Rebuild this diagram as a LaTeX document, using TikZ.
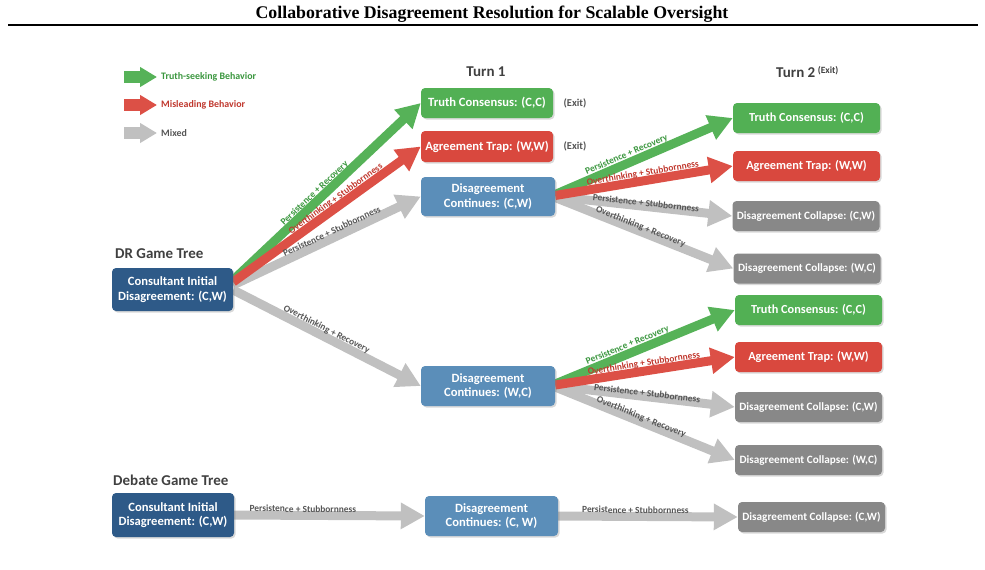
\documentclass[tikz,border=0pt]{standalone}
\usepackage{fontspec}
\setmainfont{Liberation Serif}
\newfontfamily\cf{Carlito}
\usetikzlibrary{arrows.meta,shadows,backgrounds}
\definecolor{ngreen}{RGB}{82,176,84}
\definecolor{nred}{RGB}{217,72,62}
\definecolor{nblue}{RGB}{91,142,185}
\definecolor{ndblue}{RGB}{46,90,136}
\definecolor{ngray}{RGB}{136,136,136}
\definecolor{agreen}{RGB}{86,178,88}
\definecolor{ared}{RGB}{220,80,70}
\definecolor{agray}{RGB}{192,192,192}
\definecolor{lgreen}{RGB}{58,150,62}
\definecolor{lred}{RGB}{192,56,46}
\definecolor{lgray}{RGB}{85,85,85}
\definecolor{hdr}{RGB}{64,64,64}
\tikzset{
  box/.style={rectangle, rounded corners=4pt, text=white, align=center, inner sep=1pt,
    font=\cf\bfseries\fontsize{12.6}{14.5}\selectfont,
    drop shadow={shadow xshift=1.5pt, shadow yshift=-1.5pt, opacity=0.3}},
  tbox/.style={box, font=\cf\bfseries\fontsize{12.3}{14}\selectfont, minimum width=147pt, minimum height=30pt},
  cbox/.style={tbox, font=\cf\bfseries\fontsize{11.2}{13}\selectfont},
  barrow/.style={line width=9pt, -{Triangle[width=25pt,length=24pt]}, draw=#1},
  lab/.style={sloped, font=\cf\bfseries\fontsize{9.4}{10}\selectfont, inner sep=1pt, above=2pt},
  hdrtext/.style={font=\cf\bfseries\fontsize{15}{17}\selectfont, text=hdr},
  exittext/.style={font=\cf\bfseries\fontsize{10.5}{12}\selectfont, text=lgray},
  legtext/.style={font=\cf\bfseries\fontsize{9.9}{11}\selectfont, anchor=west, inner sep=0pt}
}
\begin{document}
\begin{tikzpicture}[x=1pt,y=-1pt]
\useasboundingbox (0,0) rectangle (985,570);
% title
\node[font=\bfseries\fontsize{17.8}{20}\selectfont, inner sep=0pt] (title) at (492,14) {Collaborative Disagreement Resolution for Scalable Oversight};
\draw[line width=2pt] (8,25) -- (978,25);

% legend
\coordinate (g1) at (124,77); \coordinate (g2) at (157,77);
\coordinate (r1) at (124,105); \coordinate (r2) at (157,105);
\coordinate (m1) at (124,133); \coordinate (m2) at (157,133);
\draw[line width=12pt, -{Triangle[width=19pt,length=17pt]}, draw=agreen] (g1) -- (g2);
\draw[line width=12pt, -{Triangle[width=19pt,length=17pt]}, draw=ared] (r1) -- (r2);
\draw[line width=12pt, -{Triangle[width=19pt,length=17pt]}, draw=agray] (m1) -- (m2);
\node[legtext, text=lgreen] (lg) at (161,77) {Truth-seeking Behavior};
\node[legtext, text=lred] (lr) at (161,105) {Misleading Behavior};
\node[legtext, text=lgray] (lm) at (161,133) {Mixed};

% headers
\node[hdrtext] (turn1) at (486,72) {Turn 1};
\node[hdrtext, anchor=west, inner sep=0pt] (turn2) at (776,72) {Turn 2\,\raisebox{0.55ex}{\fontsize{9.5}{10}\selectfont(Exit)}};
\node[hdrtext, anchor=west, inner sep=0pt] (drhdr) at (115,254) {DR Game Tree};
\node[hdrtext, anchor=west, inner sep=0pt] (dbhdr) at (113,480) {Debate Game Tree};

% DR tree nodes
\node[box, fill=ndblue, minimum width=121pt, minimum height=43pt] (root) at (172.5,289.5) {Consultant Initial\\Disagreement: (C,W)};
\node[box, fill=ngreen, minimum width=132pt, minimum height=30pt] (tc1) at (487,103) {Truth Consensus: (C,C)};
\node[box, fill=nred, minimum width=132pt, minimum height=31pt] (at1) at (487,146.5) {Agreement Trap: (W,W)};
\node[box, fill=nblue, minimum width=134pt, minimum height=39pt] (dc1) at (488,196.5) {Disagreement\\Continues: (C,W)};
\node[box, fill=nblue, minimum width=134pt, minimum height=40pt] (dc2) at (488,386) {Disagreement\\Continues: (W,C)};
\node[exittext] (ex1) at (575,103) {(Exit)};
\node[exittext] (ex2) at (575,146) {(Exit)};

\node[tbox, fill=ngreen] (tca) at (806.5,118) {Truth Consensus: (C,C)};
\node[tbox, fill=nred] (ata) at (806.5,166) {Agreement Trap: (W,W)};
\node[cbox, fill=ngray] (cla) at (806,216) {Disagreement Collapse: (C,W)};
\node[cbox, fill=ngray] (cla2) at (807,268.5) {Disagreement Collapse: (W,C)};
\node[tbox, fill=ngreen] (tcb) at (808.5,310) {Truth Consensus: (C,C)};
\node[tbox, fill=nred] (atb) at (808.5,357) {Agreement Trap: (W,W)};
\node[cbox, fill=ngray] (clb) at (808.5,407) {Disagreement Collapse: (C,W)};
\node[cbox, fill=ngray] (clb2) at (808.5,460) {Disagreement Collapse: (W,C)};

% Debate tree nodes
\node[box, fill=ndblue, minimum width=122pt, minimum height=44pt] (droot) at (173,515) {Consultant Initial\\Disagreement: (C,W)};
\node[box, fill=nblue, minimum width=133pt, minimum height=40pt] (ddc) at (491.5,516) {Disagreement\\Continues: (C, W)};
\node[cbox, fill=ngray] (dcl) at (811.5,517) {Disagreement Collapse: (C,W)};

% arrows
\begin{pgfonlayer}{background}
\draw[barrow=agray] ([yshift=4.5pt]root.east) -- (dc1.west);
\draw[barrow=agray] ([yshift=-0.5pt]root.east) -- (dc2.west);
\draw[barrow=agreen] ([yshift=9.5pt]root.east) -- (tc1.west);
\draw[barrow=ared] ([yshift=7.5pt]root.east) -- (at1.west);

\draw[barrow=agray] ([yshift=0pt]dc1.east) -- (cla.west);
\draw[barrow=agray] ([yshift=-1pt]dc1.east) -- (cla2.west);
\draw[barrow=agreen] ([yshift=2pt]dc1.east) -- (tca.west);
\draw[barrow=ared] ([yshift=1pt]dc1.east) -- (ata.west);

\draw[barrow=agray] ([yshift=0pt]dc2.east) -- (clb.west);
\draw[barrow=agray] ([yshift=-1pt]dc2.east) -- (clb2.west);
\draw[barrow=agreen] ([yshift=2pt]dc2.east) -- (tcb.west);
\draw[barrow=ared] ([yshift=1pt]dc2.east) -- (atb.west);

\draw[barrow=agray] (droot.east) -- (ddc.west);
\draw[barrow=agray] (ddc.east) -- (dcl.west);
\end{pgfonlayer}

% labels
\path ([yshift=9.5pt]root.east) -- (tc1.west) node[lab, pos=0.46, text=lgreen] {Persistence + Recovery};
\path ([yshift=7.5pt]root.east) -- (at1.west) node[lab, pos=0.57, text=lred, above=0pt] {Overthinking + Stubbornness};
\path ([yshift=4.5pt]root.east) -- (dc1.west) node[lab, pos=0.54, text=lgray] {Persistence + Stubbornness};
\path ([yshift=-0.5pt]root.east) -- (dc2.west) node[lab, pos=0.48, text=lgray] {Overthinking + Recovery};

\path ([yshift=2pt]dc1.east) -- (tca.west) node[lab, pos=0.42, text=lgreen, above=1pt] {Persistence + Recovery};
\path ([yshift=1pt]dc1.east) -- (ata.west) node[lab, pos=0.5, text=lred, above=0pt] {Overthinking + Stubbornness};
\path ([yshift=0pt]dc1.east) -- (cla.west) node[lab, pos=0.51, text=lgray, above=-3pt] {Persistence + Stubbornness};
\path ([yshift=-1pt]dc1.east) -- (cla2.west) node[lab, pos=0.47, text=lgray, above=-3pt] {Overthinking + Recovery};

\path ([yshift=2pt]dc2.east) -- (tcb.west) node[lab, pos=0.42, text=lgreen, above=1pt] {Persistence + Recovery};
\path ([yshift=1pt]dc2.east) -- (atb.west) node[lab, pos=0.5, text=lred, above=0pt] {Overthinking + Stubbornness};
\path ([yshift=0pt]dc2.east) -- (clb.west) node[lab, pos=0.51, text=lgray, above=-3pt] {Persistence + Stubbornness};
\path ([yshift=-1pt]dc2.east) -- (clb2.west) node[lab, pos=0.47, text=lgray, above=-3pt] {Overthinking + Recovery};

\path (droot.east) -- (ddc.west) node[lab, pos=0.36, text=lgray] {Persistence + Stubbornness};
\path (ddc.east) -- (dcl.west) node[lab, pos=0.43, text=lgray] {Persistence + Stubbornness};
\end{tikzpicture}
\end{document}
